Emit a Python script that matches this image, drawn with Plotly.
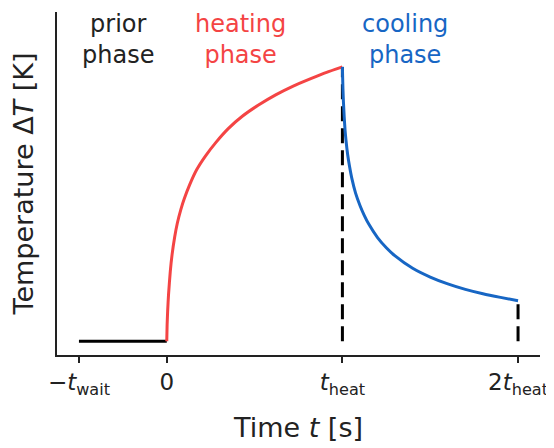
import plotly.graph_objects as go

# Data (t in units of t_heat, ΔT normalized to the peak)
prior_t = [-0.5, 0.0]
prior_T = [0.0, 0.0]

heat_t = [0.0, 0.002, 0.005, 0.01, 0.02, 0.03, 0.045, 0.06, 0.08, 0.1, 0.13, 0.17, 0.22, 0.28,
          0.35, 0.43, 0.52, 0.62, 0.72, 0.82, 0.91, 1.0]
heat_T = [0.0, 0.06, 0.11, 0.17, 0.255, 0.315, 0.38, 0.43, 0.48, 0.52, 0.57, 0.625, 0.675, 0.725,
          0.775, 0.82, 0.86, 0.898, 0.93, 0.957, 0.98, 1.0]

cool_t = [1.0, 1.001, 1.003, 1.006, 1.01, 1.015, 1.02, 1.03, 1.04, 1.055, 1.075, 1.1, 1.125, 1.15,
          1.2, 1.25, 1.3, 1.4, 1.5, 1.6, 1.7, 1.8, 1.9, 2.0]
cool_T = [1.0, 0.97, 0.92, 0.87, 0.82, 0.77, 0.735, 0.68, 0.64, 0.59, 0.54, 0.495, 0.458, 0.427,
          0.378, 0.341, 0.311, 0.266, 0.234, 0.209, 0.189, 0.173, 0.16, 0.148]

dash_t = [1.0, 2.0]
dash_T = [1.0, 0.148]

tick_vals = [-0.5, 0.0, 1.0, 2.0]
tick_text = ["−<i>t</i><sub>wait</sub>", "0", "<i>t</i><sub>heat</sub>", "2<i>t</i><sub>heat</sub>"]

phase_labels = ["prior<br>phase", "heating<br>phase", "cooling<br>phase"]
phase_x = [-0.28, 0.42, 1.356]
phase_y = [1.10, 1.10, 1.10]

RED = "#f44444"
BLUE = "#1766c4"
label_colors = ["#222222", RED, BLUE]

fig = go.Figure()

for tx, ty in zip(dash_t, dash_T):
    fig.add_trace(go.Scatter(x=[tx, tx], y=[0.0, ty], mode="lines",
                             line=dict(color="black", width=3, dash="15px,7px"),
                             showlegend=False, hoverinfo="skip"))

fig.add_trace(go.Scatter(x=prior_t, y=prior_T, mode="lines",
                         line=dict(color="black", width=3), showlegend=False))
fig.add_trace(go.Scatter(x=heat_t, y=heat_T, mode="lines",
                         line=dict(color=RED, width=3, shape="spline", smoothing=0.5), showlegend=False))
fig.add_trace(go.Scatter(x=cool_t, y=cool_T, mode="lines",
                         line=dict(color=BLUE, width=3, shape="spline", smoothing=0.5), showlegend=False))

for txt, x, y, c in zip(phase_labels, phase_x, phase_y, label_colors):
    fig.add_annotation(x=x, y=y, text=txt, showarrow=False, xanchor="center", yanchor="middle",
                       font=dict(family="DejaVu Sans", size=24, color=c))

# the page body has an 8px margin, so the figure is 8px smaller than the window
fig.update_layout(
    width=546, height=440,
    margin=dict(l=49, r=14, t=4, b=93),
    paper_bgcolor="white", plot_bgcolor="white",
    font=dict(family="DejaVu Sans", size=23, color="#222222"),
    xaxis=dict(range=[-0.625, 2.125], tickvals=tick_vals, ticktext=tick_text,
               showgrid=False, zeroline=False, showline=True, linecolor="#222222", linewidth=1.5,
               ticks="outside", ticklen=6, tickwidth=1.5, tickcolor="#222222",
               tickfont=dict(size=23), automargin=False,
               title=dict(text="Time <i>t</i> [s]", font=dict(size=27), standoff=20)),
    yaxis=dict(range=[-0.05, 1.2], showticklabels=False, ticks="", automargin=False,
               showgrid=False, zeroline=False, showline=True, linecolor="#222222", linewidth=1.5,
               title=dict(text="Temperature Δ<i>T</i> [K]", font=dict(size=27), standoff=16)),
)

fig.write_html("out.html")
